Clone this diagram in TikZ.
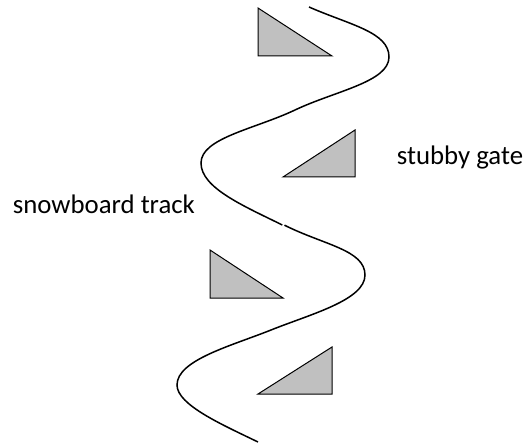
\documentclass[tikz,border=0pt]{standalone}
\usepackage{fontspec}
\setmainfont{Carlito}
\definecolor{gatefill}{RGB}{192,192,192}
\begin{document}
\begin{tikzpicture}[x=1pt,y=-1pt,
  track/.style={line width=1.5pt,line cap=butt},
  gate/.style={draw=black,fill=gatefill,line width=1pt,line join=miter},
  lbl/.style={font=\fontsize{26.8}{32}\selectfont,anchor=base west,inner sep=0pt}]
\useasboundingbox (0,0) rectangle (529,443);
% gates
\draw[gate] (258,8) -- (258,56) -- (332,56) -- cycle;
\draw[gate] (283,177) -- (355,177) -- (355,130) -- cycle;
\draw[gate] (210,250) -- (210,298) -- (283,298) -- cycle;
\draw[gate] (258,394) -- (332,394) -- (332,347) -- cycle;
% track
\draw[track] (309,7) .. controls (350,25) and (389,32) .. (389,57)
  .. controls (389,82) and (335,91) .. (295,110)
  .. controls (255,129) and (201,138) .. (201,163)
  .. controls (201,188) and (244,206) .. (282.3,225);
\draw[track] (284.5,225.2) .. controls (324,245) and (365,250) .. (365,275)
  .. controls (365,300) and (311,314) .. (271,330)
  .. controls (231,346) and (177,360) .. (177,385)
  .. controls (177,405) and (223,425) .. (258,442);
% labels
\node[lbl] (track) at (12.7,214) {snowboard track};
\node[lbl] (gatelbl) at (396.7,165) {stubby gate};
\end{tikzpicture}
\end{document}
